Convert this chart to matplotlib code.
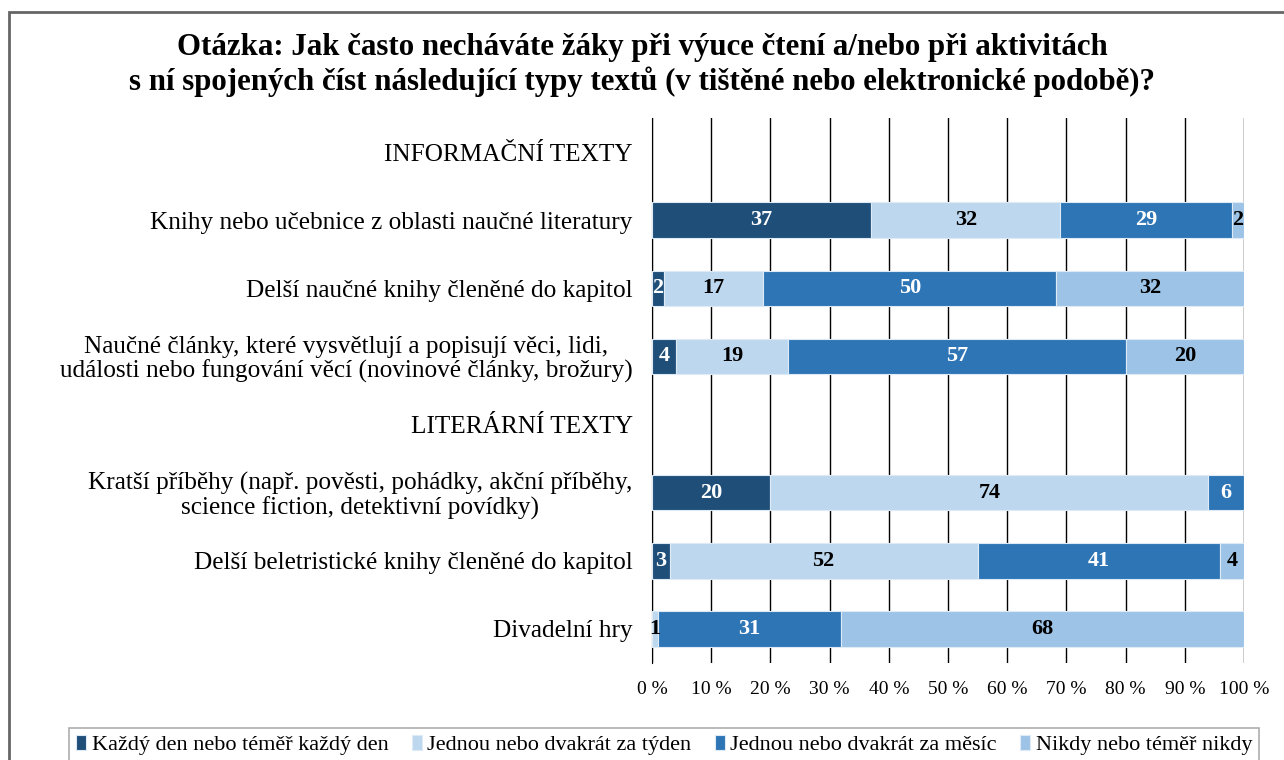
import numpy as np
import matplotlib.pyplot as plt
from matplotlib.patches import Rectangle

plt.rcParams['font.family'] = ['Liberation Serif', 'DejaVu Serif']

title = ("Otázka: Jak často necháváte žáky při výuce čtení a/nebo při aktivitách\n"
         "s ní spojených číst následující typy textů (v tištěné nebo elektronické podobě)?")

categories = [
    "INFORMAČNÍ TEXTY",
    "Knihy nebo učebnice z oblasti naučné literatury",
    "Delší naučné knihy členěné do kapitol",
    "Naučné články, které vysvětlují a popisují věci, lidi,\nudálosti nebo fungování věcí (novinové články, brožury)",
    "LITERÁRNÍ TEXTY",
    "Kratší příběhy (např. pověsti, pohádky, akční příběhy,\nscience fiction, detektivní povídky)",
    "Delší beletristické knihy členěné do kapitol",
    "Divadelní hry",
]

series_names = ["Každý den nebo téměř každý den",
                "Jednou nebo dvakrát za týden",
                "Jednou nebo dvakrát za měsíc",
                "Nikdy nebo téměř nikdy"]

# None = header row (no bar)
denne = [None, 37, 2, 4, None, 20, 3, 0]
tyden = [None, 32, 17, 19, None, 74, 52, 1]
mesic = [None, 29, 50, 57, None, 6, 41, 31]
nikdy = [None, 2, 32, 20, None, 0, 4, 68]

colors = ['#1F4E79', '#BDD7EE', '#2E75B6', '#9DC3E6']
text_colors = ['white', 'black', 'white', 'black']

fig = plt.figure(figsize=(12.84, 7.6), dpi=100)
ax = fig.add_axes([652/1284, 1-663/760, 592/1284, 545/760])

data = np.array([[np.nan if v is None else v for v in s] for s in [denne, tyden, mesic, nikdy]], dtype=float)
totals = np.nansum(data, axis=0)
rows = np.where(totals > 0)[0]
y = np.arange(len(categories))

# 100 % stacked bars
left = np.zeros(len(rows))
for i in range(4):
    vals = data[i][rows]
    widths = vals / totals[rows] * 100
    ax.barh(rows, widths, left=left, height=0.52, color=colors[i],
            edgecolor='#DEEBF7', linewidth=0.8, label=series_names[i], zorder=3)
    for j, r in enumerate(rows):
        if vals[j] > 0:
            ax.text(left[j] + widths[j] / 2, r, f"{int(vals[j])}", ha='center', va='center',
                    color=text_colors[i], fontsize=16, fontweight='bold', zorder=4)
    left += widths

ax.set_xlim(0, 100)
ax.set_ylim(len(categories) - 0.5, -0.5)
ax.set_xticks(np.arange(0, 101, 10))
ax.set_xticklabels([f"{v} %" for v in range(0, 101, 10)], fontsize=14)
ax.set_yticks(y)
ax.set_yticklabels(categories, fontsize=18.2, multialignment='center', linespacing=1.05)
ax.tick_params(axis='x', length=0, pad=13)
ax.tick_params(axis='y', length=0, pad=14)
ax.grid(axis='x', color='black', linewidth=1, zorder=0)
for s in ['top', 'right', 'bottom']:
    ax.spines[s].set_visible(False)
ax.spines['left'].set_color('black')

fig.text(0.5, 1 - 65/760, title, ha='center', va='center', fontsize=22.2,
         fontweight='bold', linespacing=1.2)

# outer chart frame
fig.patches.append(Rectangle((9/1284, -0.05), 1.1, 1 - 12/760 + 0.05, transform=fig.transFigure,
                             fill=False, edgecolor='#666666', linewidth=2))

leg = fig.legend(loc='upper center', bbox_to_anchor=(664/1284, 1 - 728/760),
                 ncol=4, fontsize=16, frameon=True, fancybox=False,
                 edgecolor='#999999', handlelength=0.45, handleheight=0.7, handletextpad=0.25,
                 columnspacing=1.05, borderaxespad=0, borderpad=0.3)
leg.get_frame().set_linewidth(1.2)

fig.savefig("out.png", dpi=100)
